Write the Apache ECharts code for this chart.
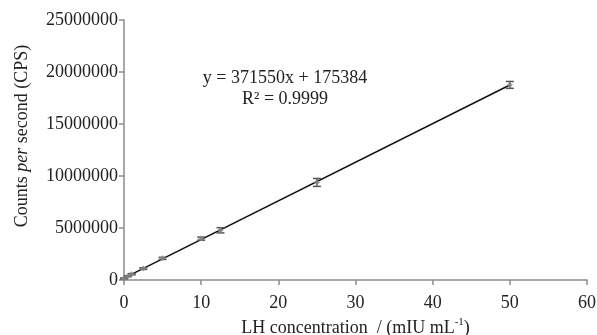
<!DOCTYPE html>
<html><head><meta charset="utf-8">
<script src="https://cdn.jsdelivr.net/npm/echarts@6/dist/echarts.min.js"></script>
<style>html,body{margin:0;padding:0;background:#fff}#c{width:597px;height:335px}</style>
</head><body><div id="c"></div>
<script>
const concentrations = [0, 0.5, 1, 2.5, 5, 10, 12.5, 25, 50];
const counts = [150000, 360000, 560000, 1100000, 2080000, 3980000, 4780000, 9380000, 18760000];
const errors = [40000, 50000, 60000, 80000, 100000, 150000, 250000, 380000, 330000];
const trendX = [0, 50];
const trendY = [175384, 18752884];
const equationText = 'y = 371550x + 175384';
const r2Text = 'R² = 0.9999';
const xTicks = [0, 10, 20, 30, 40, 50, 60];
const yTicks = [0, 5000000, 10000000, 15000000, 20000000, 25000000];

const FONT = '"Liberation Serif", "Times New Roman", serif';
const FS = 18;
const chart = echarts.init(document.getElementById('c'));
const pts = concentrations.map((x, i) => [x, counts[i]]);
const errData = concentrations.map((x, i) => [x, counts[i] - errors[i], counts[i] + errors[i]]);
chart.setOption({
  animation: false,
  grid: {left: 124, right: 10, top: 20, bottom: 55, containLabel: false, outerBoundsMode: 'none'},
  xAxis: {
    type: 'value', min: xTicks[0], max: xTicks[xTicks.length - 1], interval: xTicks[1] - xTicks[0],
    axisLine: {lineStyle: {color: '#8c8c8c', width: 1.5}},
    axisTick: {show: true, length: 5, lineStyle: {color: '#8c8c8c', width: 1.5}},
    splitLine: {show: false},
    axisLabel: {color: '#222', fontFamily: FONT, fontSize: FS, margin: 14, formatter: v => String(v)},
    name: '{a|LH concentration  / (mIU mL}{s|-1}{a|)}',
    nameLocation: 'middle', nameGap: 36,
    nameTextStyle: {
      rich: {
        a: {fontFamily: FONT, fontSize: FS, color: '#222', verticalAlign: 'bottom', lineHeight: 20},
        s: {fontFamily: FONT, fontSize: 11, color: '#222', verticalAlign: 'top', lineHeight: 20, padding: [0, 0, 9, 0]}
      }
    }
  },
  yAxis: {
    type: 'value', min: yTicks[0], max: yTicks[yTicks.length - 1], interval: yTicks[1] - yTicks[0],
    axisLine: {show: true, lineStyle: {color: '#8c8c8c', width: 1.5}},
    axisTick: {show: true, length: 5, lineStyle: {color: '#8c8c8c', width: 1.5}},
    splitLine: {show: false},
    axisLabel: {color: '#222', fontFamily: FONT, fontSize: FS, margin: 6, formatter: v => String(v)}
  },
  graphic: [
    {type: 'text', x: 285, y: 78, style: {text: equationText, font: FS + 'px ' + FONT, fill: '#222', align: 'center', verticalAlign: 'middle'}},
    {type: 'text', x: 285, y: 99, style: {text: r2Text, font: FS + 'px ' + FONT, fill: '#222', align: 'center', verticalAlign: 'middle'}},
    {type: 'text', x: 22, y: 136, rotation: Math.PI / 2,
     style: {text: '{a|Counts }{i|per}{a| second (CPS)}', align: 'center', verticalAlign: 'middle',
       rich: {
         a: {fontFamily: FONT, fontSize: FS, fill: '#222'},
         i: {fontFamily: FONT, fontSize: FS, fill: '#222', fontStyle: 'italic'}
       }}}
  ],
  series: [
    {
      type: 'line', data: trendX.map((x, i) => [x, trendY[i]]), symbol: 'none',
      lineStyle: {color: '#111', width: 1.5}, z: 3
    },
    {
      type: 'custom', z: 4,
      renderItem: function (params, api) {
        const x = api.value(0);
        const lo = api.coord([x, api.value(1)]);
        const hi = api.coord([x, api.value(2)]);
        const w = 4;
        const st = {stroke: '#555', lineWidth: 1.5};
        return {type: 'group', children: [
          {type: 'line', shape: {x1: lo[0], y1: lo[1], x2: hi[0], y2: hi[1]}, style: st},
          {type: 'line', shape: {x1: lo[0] - w, y1: lo[1], x2: lo[0] + w, y2: lo[1]}, style: st},
          {type: 'line', shape: {x1: hi[0] - w, y1: hi[1], x2: hi[0] + w, y2: hi[1]}, style: st}
        ]};
      },
      encode: {x: 0, y: [1, 2]},
      data: errData
    },
    {
      type: 'scatter', data: pts, symbol: 'diamond', symbolSize: 6,
      itemStyle: {color: '#888'}, z: 5
    }
  ]
});
</script></body></html>
